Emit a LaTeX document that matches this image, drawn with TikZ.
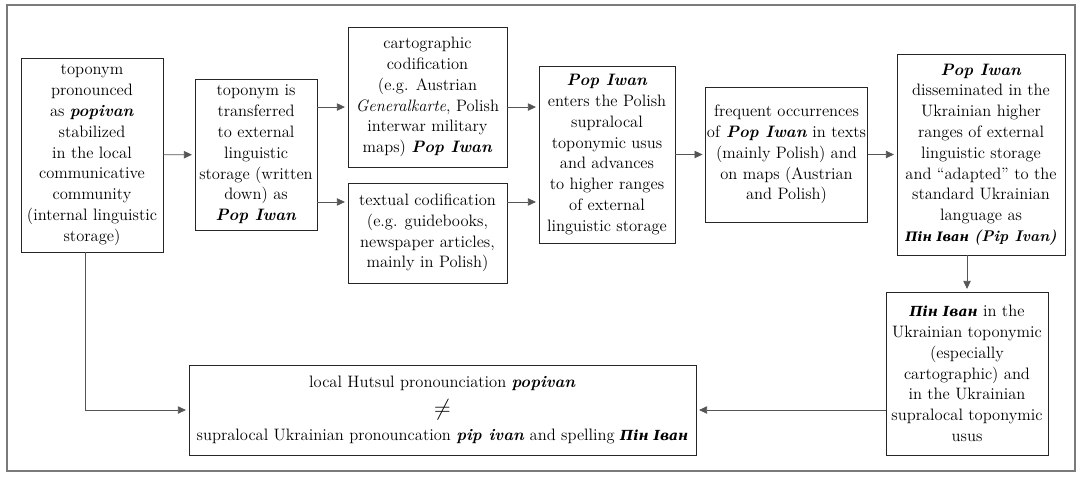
\documentclass[tikz,border=0pt]{standalone}
\usepackage{fontspec}
\newfontfamily\cyr{DejaVu Serif}[Scale=0.84]
\usepackage{amsmath}
\usepackage{xcolor}
\usepackage{tikz}
\usetikzlibrary{arrows.meta}

\newcommand{\nm}[1]{\textbf{\textit{#1}}}
\newcommand{\pin}{\textbf{\textit{\cyr Пін Іван}}}
\definecolor{framegray}{HTML}{7A7A7A}
\definecolor{linegray}{HTML}{555555}

\tikzset{
  stage/.style={draw=black!85, line width=0.6pt, align=center, inner sep=1pt,
    font=\fontsize{12.4}{15.6}\selectfont},
  flow/.style={draw=linegray, line width=0.6pt, -{Triangle[length=6pt,width=5.5pt]},
    shorten >=2pt}
}

\begin{document}
\begin{tikzpicture}[x=0.75pt,y=-0.75pt]
  \useasboundingbox (0,0) rectangle (1080,476);
  \draw[framegray, line width=1.5pt] (6.5,5) rectangle (1075,471);

  \node[stage, minimum width=106.5pt, minimum height=145.5pt] (A) at (92,155)
    {toponym\\ pronounced\\ as \nm{popivan}\\ stabilized\\ in the local\\ communicative\\ community\\ (internal linguistic\\ storage)};
  \node[stage, minimum width=91.5pt, minimum height=113.25pt] (B) at (256,154.5)
    {toponym is\\ transferred\\ to external\\ linguistic\\ storage (written\\ down) as\\ \nm{Pop Iwan}};
  \node[stage, minimum width=119.25pt, minimum height=105pt] (C) at (427.5,97)
    {cartographic\\ codification\\ (e.g. Austrian\\ \textit{Generalkarte}, Polish\\ interwar military\\ maps) \nm{Pop Iwan}};
  \node[stage, minimum width=119.25pt, minimum height=75pt] (D) at (427.5,233)
    {textual codification\\ (e.g. guidebooks,\\ newspaper articles,\\ mainly in Polish)};
  \node[stage, minimum width=102pt, minimum height=132.75pt] (E) at (607,154.5)
    {\nm{Pop Iwan}\\ enters the Polish\\ supralocal\\ toponymic usus\\ and advances\\ to higher ranges\\ of external\\ linguistic storage};
  \node[stage, minimum width=119.25pt, minimum height=101.25pt] (F) at (786.5,154.5)
    {frequent occurrences\\ of \nm{Pop Iwan} in texts\\ (mainly Polish) and\\ on maps (Austrian\\ and Polish)};
  \node[stage, minimum width=126pt, minimum height=150.75pt] (G) at (981,154.5)
    {\nm{Pop Iwan}\\ disseminated in the\\ Ukrainian higher\\ ranges of external\\ linguistic storage\\ and “adapted” to the\\ standard Ukrainian\\ language as\\ {\fontsize{11.6}{15.6}\selectfont\pin\ \nm{(Pip Ivan)}}};
  \node[stage, minimum width=121.5pt, minimum height=122.25pt] (H) at (967,373.5)
    {\pin\ in the\\ Ukrainian toponymic\\ (especially\\ cartographic) and\\ in the Ukrainian\\ supralocal toponymic\\ usus};
  \node[stage, minimum width=380.25pt, minimum height=67.5pt] (I) at (442.5,410)
    {local Hutsul pronounciation \nm{popivan}\\[5pt]
     {\LARGE$\neq$}\\[3pt]
     supralocal Ukrainian pronouncation \nm{pip ivan} and spelling \pin};

  \draw[flow] (A) -- (B);
  \draw[flow] ([yshift=35.6pt]B.east) -- ([yshift=35.6pt]B.east -| C.west);
  \draw[flow] ([yshift=-35.6pt]B.east) -- ([yshift=-35.6pt]B.east -| D.west);
  \draw[flow] ([yshift=35.6pt]E.west -| C.east) -- ([yshift=35.6pt]E.west);
  \draw[flow] ([yshift=-35.6pt]E.west -| D.east) -- ([yshift=-35.6pt]E.west);
  \draw[flow] (E) -- (F);
  \draw[flow] (F) -- (G);
  \draw[flow] (H.north |- G.south) -- (H.north);
  \draw[flow] (H.west |- I.east) -- (I.east);
  \draw[flow] ([xshift=-5pt]A.south) |- (I.west);
\end{tikzpicture}
\end{document}
